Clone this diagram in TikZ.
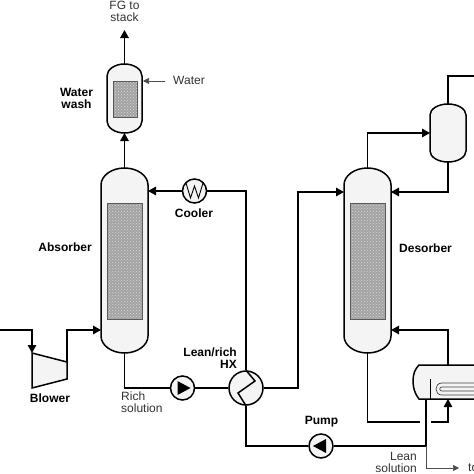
\documentclass[tikz,border=0pt]{standalone}
\usepackage{fontspec}
\setmainfont{Liberation Sans}
\usepackage{tikz}
\usetikzlibrary{arrows.meta,calc,patterns}
\definecolor{shell}{RGB}{243,244,243}
\tikzset{
  flow/.style={line width=1.5pt,-{Triangle[length=8pt,width=8.5pt]}},
  pipe/.style={line width=1.5pt},
  thinflow/.style={line width=0.7pt,draw=black!70,-{Triangle[length=6pt,width=6pt]}},
  vesselline/.style={line width=1.5pt,fill=shell},
  vessel/.style={rectangle,inner sep=0pt,outer sep=0pt},
  packing/.style={rectangle,inner sep=0pt,draw=black!65,line width=0.7pt,preaction={fill=black!36},pattern=crosshatch dots,pattern color=white!85!black},
  unit/.style={circle,draw,line width=1.5pt,fill=shell,inner sep=0pt,minimum size=24pt},
  unitlabel/.style={font=\fontsize{12}{12}\selectfont\bfseries,align=center,inner sep=0pt},
  streamlabel/.style={font=\fontsize{12}{12}\selectfont,align=left,inner sep=0pt,text=black!80}
}
\newcommand{\drawvessel}[3]{%
  \draw[vesselline] (#1.north) .. controls +(-0.55*#2,0) and +(0,-0.55*#3) .. ($(#1.north west)+(0,#3)$)
    -- ($(#1.south west)+(0,-#3)$) .. controls +(0,0.55*#3) and +(-0.55*#2,0) .. (#1.south)
    .. controls +(0.55*#2,0) and +(0,0.55*#3) .. ($(#1.south east)+(0,-#3)$)
    -- ($(#1.north east)+(0,#3)$) .. controls +(0,-0.55*#3) and +(0.55*#2,0) .. (#1.north) -- cycle;
}
\begin{document}
\begin{tikzpicture}[x=1pt,y=-1pt,>=Stealth]
  \clip (0,0) rectangle (474,474);
  \fill[white] (0,0) rectangle (474,474);
  % vessels
  \node[vessel,minimum width=35pt,minimum height=69pt] (wash) at (124.5,98.5) {};
  \node[vessel,minimum width=47pt,minimum height=185pt] (absorber) at (124.5,260.5) {};
  \node[vessel,minimum width=47pt,minimum height=185pt] (desorber) at (367.5,260.5) {};
  \node[vessel,minimum width=36pt,minimum height=58pt] (drum) at (448,133) {};
  \drawvessel{wash}{17.5}{12}
  \drawvessel{absorber}{23.5}{17}
  \drawvessel{desorber}{23.5}{17}
  \drawvessel{drum}{18}{11}
  % packing
  \node[packing,minimum width=24pt,minimum height=36pt] (washbed) at (125,99) {};
  \node[packing,minimum width=35pt,minimum height=116pt] (absorberbed) at (124.5,261) {};
  \node[packing,minimum width=35pt,minimum height=116pt] (desorberbed) at (367.5,261) {};
  % blower
  \node[vessel,minimum width=35pt,minimum height=35pt] (blower) at (49.5,370.5) {};
  \coordinate (blowerout) at (67,362);
  \draw[vesselline] (blower.north west) -- (blowerout) -- (67,379) -- (blower.south west) -- cycle;
  % reboiler
  \node[vessel,minimum width=61pt,minimum height=34pt] (reboiler) at (443.5,382) {};
  \coordinate (reboilerin) at (448,399);
  \coordinate (reboilerout) at (426,399);
  \coordinate (reboilertop) at (448,365);
  \draw[vesselline] (474,365) -- (419,365) .. controls (415,369) and (413,374) .. (413,381)
    .. controls (413,388) and (415,394) .. (419,399) -- (474,399);
  \draw[line width=0.7pt] (430,379) -- (430,399);
  \draw[line width=0.7pt,black!75] (474,383) -- (442,383) .. controls (438,383) and (436,386) .. (436,389)
    .. controls (436,392) and (438,395) .. (442,395) -- (474,395);
  \draw[line width=0.7pt,black!75] (474,387) -- (442,387) .. controls (439,387) and (439,391) .. (442,391) -- (474,391);
  % rotating units and exchangers
  \node[unit] (cooler) at (194.5,191) {};
  \draw[line width=0.9pt] (186,183) -- (190.5,198) -- (194.5,186) -- (198.5,198) -- (203,183);
  \node[unit] (richpump) at (182.5,388) {};
  \fill (richpump.center) ++(-5,-7) -- ++(13,7) -- ++(-13,7) -- cycle;
  \node[unit] (leanpump) at (321,446) {};
  \fill (leanpump.center) ++(5,-7) -- ++(-13,7) -- ++(13,7) -- cycle;
  \node[unit,minimum size=34pt] (hx) at (246,388) {};
  \draw[line width=1.5pt] (hx.north) -- (255,381) -- (238,393) -- (hx.south);
  % gas side
  \coordinate (gasin) at (0,330);
  \coordinate (absorberin) at (101,330);
  \coordinate (stack) at (124.5,30);
  \coordinate (waterin) at (165,81);
  \coordinate (waterport) at (143,81);
  \draw[flow] (gasin) -| (blower.north west);
  \draw[flow] (blowerout) |- (absorberin);
  \draw[flow] (absorber.north) -- (wash.south);
  \draw[flow] (wash.north) -- (stack);
  \draw[thinflow] (waterin) -- (waterport);
  % solvent side
  \coordinate (absorberlean) at (148,191);
  \coordinate (desorberrich) at (344,192);
  \coordinate (desorberreflux) at (391,192);
  \coordinate (desorberreturn) at (391,330);
  \coordinate (drumin) at (430,133);
  \coordinate (condenserout) at (474,76);
  \coordinate (gapleft) at (420,422);
  \coordinate (gapright) at (431,422);
  \coordinate (leantee) at (426,446);
  \coordinate (leanout) at (459,468);
  \draw[flow] (cooler) -- (absorberlean);
  \draw[pipe] (hx.north) |- (cooler);
  \draw[pipe] (absorber.south) |- (richpump);
  \draw[pipe] (richpump) -- (hx);
  \draw[flow] (hx.east) -| (298,192) -- (desorberrich);
  \draw[flow] (desorber.north) |- (drumin);
  \draw[pipe] (drum.north) |- (condenserout);
  \draw[flow] (drum.south) |- (desorberreflux);
  \draw[flow] (reboilertop) |- (desorberreturn);
  \draw[pipe] (desorber.south) |- (gapleft);
  \draw[flow] (gapright) -| (reboilerin);
  \draw[pipe] (reboilerout) -- (leantee);
  \draw[pipe] (leantee) -- (leanpump);
  \draw[pipe] (leanpump) -| (hx.south);
  \draw[thinflow] (leantee) |- (leanout);
  % labels
  \node[streamlabel,align=center] (fglabel) at (124.5,11) {FG to\\stack};
  \node[streamlabel,anchor=west] (waterlabel) at (173,80) {Water};
  \node[unitlabel] (washlabel) at (76.5,98) {Water\\wash};
  \node[unitlabel] (coolerlabel) at (194,213) {Cooler};
  \node[unitlabel,anchor=east] (absorberlabel) at (92,247) {Absorber};
  \node[unitlabel,anchor=west] (desorberlabel) at (399,248) {Desorber};
  \node[unitlabel] (blowerlabel) at (50,398) {Blower};
  \node[streamlabel,anchor=north west] (richlabel) at (121,392) {Rich\\solution};
  \node[unitlabel,align=right,anchor=east] (hxlabel) at (237,358) {Lean/rich\\HX};
  \node[unitlabel] (pumplabel) at (321.5,422) {Pump};
  \node[streamlabel,align=right,anchor=east] (leanlabel) at (417,462) {Lean\\solution};
  \node[streamlabel,anchor=west] (tolabel) at (468,468) {to};
\end{tikzpicture}
\end{document}
